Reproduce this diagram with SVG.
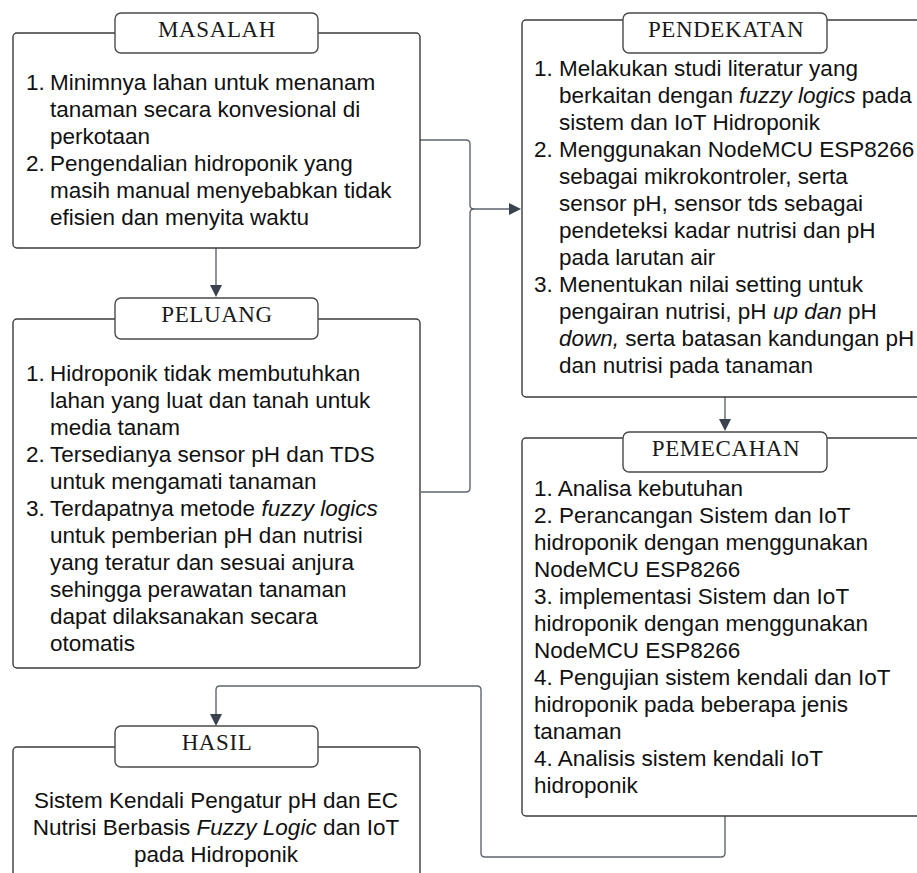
<svg xmlns="http://www.w3.org/2000/svg" width="917" height="873" viewBox="0 0 917 873">
<style>
.box{fill:#fff;stroke:#3b3b3b;stroke-width:1.4}
.tbox{fill:#fff;stroke:#4a4a4a;stroke-width:1.4}
.title{font-family:"Liberation Serif",serif;font-size:23px;letter-spacing:0.6px;fill:#1a1a1a;text-anchor:middle}
.t{font-family:"Liberation Sans",Arial,sans-serif;font-size:22.5px;fill:#111}
.c{text-anchor:middle}
.i{font-style:italic}
.conn{fill:none;stroke:#5f6670;stroke-width:1.4}
</style>
<defs>
<marker id="ah" markerWidth="12" markerHeight="12" refX="10" refY="6" orient="auto" markerUnits="userSpaceOnUse">
<path d="M0,0 L12,6 L0,12 Z" fill="#3a424d"/>
</marker>
</defs>
<rect width="917" height="873" fill="#fff"/>
<g id="connectors">
<path class="conn" d="M216,248 V295" marker-end="url(#ah)"/>
<path class="conn" d="M420,140 H466 Q470,140 470,144 V205 Q470,209 474,209 H519" marker-end="url(#ah)"/>
<path class="conn" d="M421,492 H466 Q470,492 470,488 V213 Q470,209 474,209"/>
<path class="conn" d="M725,397 V429" marker-end="url(#ah)"/>
<path class="conn" d="M725,816 V853 Q725,857 721,857 H485 Q481,857 481,853 V690 Q481,686 477,686 H220 Q216,686 216,690 V724" marker-end="url(#ah)"/>
</g>
<g id="masalah">
<rect class="box" x="13" y="33" width="407" height="215" rx="4"/>
<rect class="tbox" x="115" y="13" width="203" height="40" rx="6"/>
<text class="title" x="217" y="37">MASALAH</text>
<text class="t" x="26" y="90">1.</text>
<text class="t" x="50" y="90">Minimnya lahan untuk menanam</text>
<text class="t" x="50" y="117">tanaman secara konvesional di</text>
<text class="t" x="50" y="144">perkotaan</text>
<text class="t" x="26" y="171">2.</text>
<text class="t" x="50" y="171">Pengendalian hidroponik yang</text>
<text class="t" x="50" y="198">masih manual menyebabkan tidak</text>
<text class="t" x="50" y="225">efisien dan menyita waktu</text>
</g>
<g id="peluang">
<rect class="box" x="13" y="319" width="407" height="349" rx="4"/>
<rect class="tbox" x="115" y="298" width="203" height="41" rx="6"/>
<text class="title" x="217" y="322">PELUANG</text>
<text class="t" x="26" y="381">1.</text>
<text class="t" x="50" y="381">Hidroponik tidak membutuhkan</text>
<text class="t" x="50" y="408">lahan yang luat dan tanah untuk</text>
<text class="t" x="50" y="435">media tanam</text>
<text class="t" x="26" y="462">2.</text>
<text class="t" x="50" y="462">Tersedianya sensor pH dan TDS</text>
<text class="t" x="50" y="489">untuk mengamati tanaman</text>
<text class="t" x="26" y="516">3.</text>
<text class="t" x="50" y="516">Terdapatnya metode <tspan class="i">fuzzy logics</tspan></text>
<text class="t" x="50" y="543">untuk pemberian pH dan nutrisi</text>
<text class="t" x="50" y="570">yang teratur dan sesuai anjura</text>
<text class="t" x="50" y="597">sehingga perawatan tanaman</text>
<text class="t" x="50" y="624">dapat dilaksanakan secara</text>
<text class="t" x="50" y="651">otomatis</text>
</g>
<g id="hasil">
<rect class="box" x="13" y="747" width="407" height="140" rx="4"/>
<rect class="tbox" x="115" y="726" width="203" height="41" rx="6"/>
<text class="title" x="217" y="750">HASIL</text>
<text class="t c" x="216" y="808">Sistem Kendali Pengatur pH dan EC</text>
<text class="t c" x="216" y="835">Nutrisi Berbasis <tspan class="i">Fuzzy Logic</tspan> dan IoT</text>
<text class="t c" x="216" y="862">pada Hidroponik</text>
</g>
<g id="pendekatan">
<rect class="box" x="522" y="20" width="410" height="377" rx="4"/>
<rect class="tbox" x="623" y="13" width="204" height="40" rx="6"/>
<text class="title" x="726" y="37">PENDEKATAN</text>
<text class="t" x="534" y="76">1.</text>
<text class="t" x="559" y="76">Melakukan studi literatur yang</text>
<text class="t" x="559" y="103">berkaitan dengan <tspan class="i">fuzzy logics</tspan> pada</text>
<text class="t" x="559" y="130">sistem dan IoT Hidroponik</text>
<text class="t" x="534" y="157">2.</text>
<text class="t" x="559" y="157">Menggunakan NodeMCU ESP8266</text>
<text class="t" x="559" y="184">sebagai mikrokontroler, serta</text>
<text class="t" x="559" y="211">sensor pH, sensor tds sebagai</text>
<text class="t" x="559" y="238">pendeteksi kadar nutrisi dan pH</text>
<text class="t" x="559" y="265">pada larutan air</text>
<text class="t" x="534" y="292">3.</text>
<text class="t" x="559" y="292">Menentukan nilai setting untuk</text>
<text class="t" x="559" y="319">pengairan nutrisi, pH <tspan class="i">up dan</tspan> pH</text>
<text class="t" x="559" y="346"><tspan class="i">down,</tspan> serta batasan kandungan pH</text>
<text class="t" x="559" y="373">dan nutrisi pada tanaman</text>
</g>
<g id="pemecahan">
<rect class="box" x="522" y="438" width="410" height="378" rx="4"/>
<rect class="tbox" x="623" y="432" width="204" height="40" rx="6"/>
<text class="title" x="726" y="456">PEMECAHAN</text>
<text class="t" x="534" y="496">1. Analisa kebutuhan</text>
<text class="t" x="534" y="523">2. Perancangan Sistem dan IoT</text>
<text class="t" x="534" y="550">hidroponik dengan menggunakan</text>
<text class="t" x="534" y="577">NodeMCU ESP8266</text>
<text class="t" x="534" y="604">3. implementasi Sistem dan IoT</text>
<text class="t" x="534" y="631">hidroponik dengan menggunakan</text>
<text class="t" x="534" y="658">NodeMCU ESP8266</text>
<text class="t" x="534" y="685">4. Pengujian sistem kendali dan IoT</text>
<text class="t" x="534" y="712">hidroponik pada beberapa jenis</text>
<text class="t" x="534" y="739">tanaman</text>
<text class="t" x="534" y="766">4. Analisis sistem kendali IoT</text>
<text class="t" x="534" y="793">hidroponik</text>
</g>
</svg>
